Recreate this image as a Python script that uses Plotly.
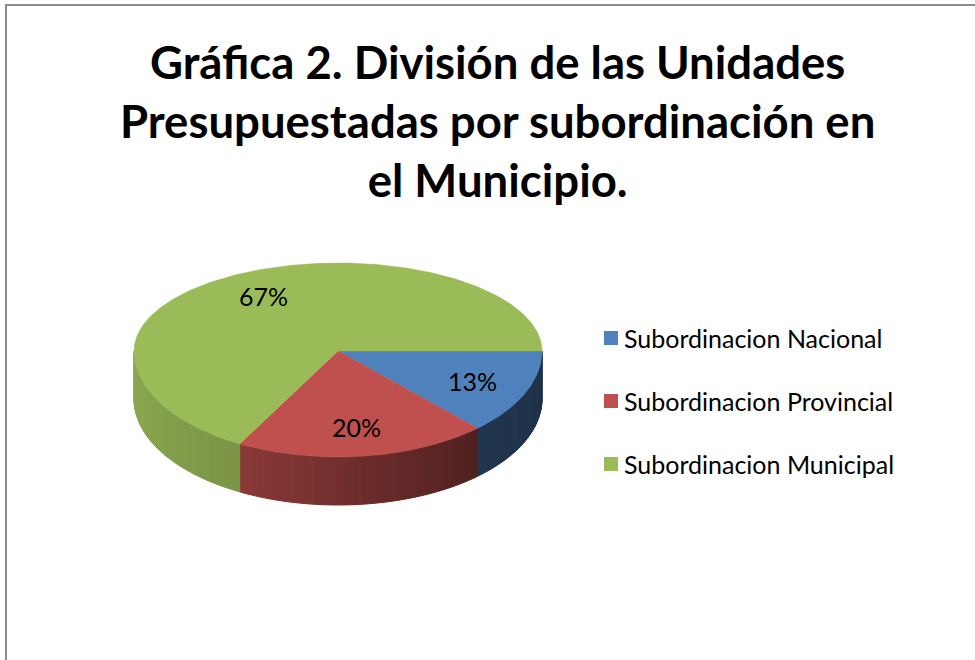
import numpy as np
import plotly.graph_objects as go

# ---------------- data ----------------
categories = ["Subordinacion Nacional", "Subordinacion Provincial", "Subordinacion Municipal"]
values = [13, 20, 67]
title_lines = ["Gráfica 2. División de las Unidades",
               "Presupuestadas por subordinación en",
               "el Municipio."]

# ---------------- style ----------------
colors = ["#4F81BD", "#C0504D", "#9BBB59"]
side_shade = [(0.42, 0.38), (0.72, 0.41), (0.91, 0.80)]  # (left, right) factor
CX, CY = 338, 351          # pie centre (pixels)
RX, RY_UP, RY_DOWN = 204, 88, 106
DEPTH = 48
LABEL_R = 0.72
W, H = 975, 660


def top_pt(a):
    t = np.radians(a)
    s = np.sin(t)
    ry = RY_DOWN if s > 0 else RY_UP
    return CX + RX * np.cos(t), CY + ry * s


def shade(hexc, f):
    h = hexc.lstrip("#")
    r, g, b = (int(h[i:i + 2], 16) for i in (0, 2, 4))
    return "rgb(%d,%d,%d)" % (r * f, g * f, b * f)


fig = go.Figure()

total = float(sum(values))
bounds = []
start = 0.0
for v in values:
    end = start + 360.0 * v / total
    bounds.append((start, end))
    start = end

# side faces (front half only: 0..180 deg, clockwise on screen)
for i, (a0, a1) in enumerate(bounds):
    lo, hi = max(a0, 0.0), min(a1, 180.0)
    if hi <= lo:
        continue
    n = max(int((hi - lo) / 1.5), 1)
    edges = np.linspace(lo, hi, n + 1)
    fl, fr = side_shade[i]
    for k in range(n):
        s0, s1 = edges[k], edges[k + 1]
        frac = ((s0 + s1) / 2 - lo) / (hi - lo)
        col = shade(colors[i], fr + (fl - fr) * frac)
        arc = np.linspace(s0, s1, 4)
        tx, ty = zip(*[top_pt(a) for a in arc])
        xs = list(tx) + list(tx[::-1]) + [tx[0]]
        ys = list(ty) + [y + DEPTH for y in ty[::-1]] + [ty[0]]
        fig.add_trace(go.Scatter(x=xs, y=ys, mode="lines", fill="toself",
                                 fillcolor=col, line=dict(color=col, width=1),
                                 hoverinfo="skip", showlegend=False))

# top faces
for i, (a0, a1) in enumerate(bounds):
    arc = np.linspace(a0, a1, max(int(a1 - a0), 2) + 1)
    pts = [top_pt(a) for a in arc]
    xs = [CX] + [p[0] for p in pts] + [CX]
    ys = [CY] + [p[1] for p in pts] + [CY]
    fig.add_trace(go.Scatter(x=xs, y=ys, mode="lines", fill="toself",
                             fillcolor=colors[i], line=dict(color=colors[i], width=0.5),
                             hoverinfo="skip", showlegend=False))

# data labels
for i, (a0, a1) in enumerate(bounds):
    mx, my = top_pt((a0 + a1) / 2)
    lx = CX + (mx - CX) * LABEL_R
    ly = CY + (my - CY) * LABEL_R
    fig.add_annotation(x=lx, y=ly, text="%d%%" % round(100 * values[i] / total),
                       showarrow=False, font=dict(family="Lato", size=25, color="#000000"))

# legend (manual)
LEG_X, LEG_Y0, LEG_DY = 611, 338, 63
fig.add_trace(go.Scatter(x=[LEG_X] * len(categories),
                         y=[LEG_Y0 + LEG_DY * i for i in range(len(categories))],
                         mode="markers",
                         marker=dict(symbol="square", size=14, color=colors, line=dict(width=0)),
                         hoverinfo="skip", showlegend=False))
for i, c in enumerate(categories):
    fig.add_annotation(x=LEG_X + 11, y=LEG_Y0 + LEG_DY * i, text=c, xanchor="left",
                       showarrow=False, font=dict(family="Lato", size=25, color="#000000"))

# title
fig.add_annotation(x=497, y=120, text="<br>".join(title_lines), showarrow=False,
                   xanchor="center", yanchor="middle",
                   font=dict(family="Lato", size=45.5, color="#000000"))
fig.layout.annotations[-1].font.weight = "bold"

# chart border
fig.add_shape(type="rect", x0=6, y0=5, x1=W + 40, y1=H + 40,
              line=dict(color="#8C8C8C", width=2), fillcolor="rgba(0,0,0,0)", layer="above")

fig.update_layout(width=W, height=H, margin=dict(l=0, r=0, t=0, b=0),
                  paper_bgcolor="white", plot_bgcolor="white", showlegend=False,
                  xaxis=dict(range=[0, W], visible=False, fixedrange=True),
                  yaxis=dict(range=[H, 0], visible=False, fixedrange=True))

fig.write_html("out.html", config={"displayModeBar": False},
               post_script="document.body.style.margin='0';document.body.style.overflow='hidden';")
